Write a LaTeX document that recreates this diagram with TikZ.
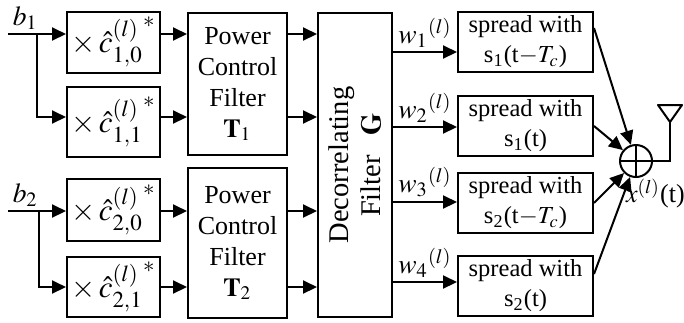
\documentclass[tikz,border=0pt]{standalone}
\usepackage{mathptmx}
\usepackage{fontspec}
\setmainfont{Liberation Serif}
\usetikzlibrary{arrows.meta}

\begin{document}
\begin{tikzpicture}[x=0.4pt,y=-0.4pt,>={Triangle[length=5.6pt,width=5.2pt]},line width=0.8pt,
  font=\fontsize{10.4}{12.4}\selectfont,
  blk/.style={draw,align=center,inner sep=0pt},
  mulbox/.style={blk,minimum width=37.2pt,minimum height=24.4pt,font=\fontsize{12.4}{14}\selectfont},
  spreadbox/.style={blk,minimum width=54pt,minimum height=24pt,font=\fontsize{9.8}{12}\selectfont},
  wlabel/.style={above,inner sep=1.5pt,font=\fontsize{11}{13}\selectfont}]
\useasboundingbox (0,0) rectangle (684,322);
% multipliers
\node[mulbox] (c10) at (113.5,42) {$\times\,{\hat{c}_{1,0}^{(l)}{}}^{*}$};
\node[mulbox,minimum height=28pt] (c11) at (113.5,122) {$\times\,{\hat{c}_{1,1}^{(l)}{}}^{*}$};
\node[mulbox,minimum height=24.8pt] (c20) at (113.5,210) {$\times\,{\hat{c}_{2,0}^{(l)}{}}^{*}$};
\node[mulbox,minimum height=24pt] (c21) at (113.5,287) {$\times\,{\hat{c}_{2,1}^{(l)}{}}^{*}$};
% power control filters
\node[blk,minimum width=39.6pt,minimum height=56.8pt] (pc1) at (237.5,84) {Power\\Control\\Filter\\$\mathbf{T}_1$};
\node[blk,minimum width=39.6pt,minimum height=60pt] (pc2) at (237.5,243) {Power\\Control\\Filter\\$\mathbf{T}_2$};
% decorrelating filter
\node[blk,minimum width=29.6pt,minimum height=121.6pt] (dec) at (355,165) {};
\node[rotate=90,align=center,font=\fontsize{11.4}{12.8}\selectfont] (dectext) at (dec.center) {Decorrelating\\Filter\hspace{0.45em} $\mathbf{G}$};
% spreading
\node[spreadbox] (sp1) at (525.5,42) {spread with\\s\textsubscript{1}(t$-T_c$)};
\node[spreadbox] (sp2) at (525.5,126) {spread with\\s\textsubscript{1}(t)};
\node[spreadbox] (sp3) at (525.5,203) {spread with\\s\textsubscript{2}(t$-T_c$)};
\node[spreadbox] (sp4) at (525.5,286) {spread with\\s\textsubscript{2}(t)};
% adder
\node[circle,draw,minimum size=12.8pt,inner sep=0pt] (sum) at (636,161) {};
\draw (sum.north) -- (sum.south) (sum.west) -- (sum.east);
\node[anchor=north west,inner sep=0pt] (xout) at (625,178) {$x^{(l)}$(t)};

% inputs and branches
\coordinate (r1) at (8,34);
\coordinate (r2) at (37,117);
\coordinate (r3) at (8,211);
\coordinate (r4) at (39,287);
\node[above right,inner sep=1.5pt,font=\fontsize{11}{13}\selectfont] (b1) at (r1) {$b_1$};
\node[above right,inner sep=1.5pt,font=\fontsize{11}{13}\selectfont] (b2) at (r3) {$b_2$};
\draw[->] (r1) -- (r1 -| c10.west);
\draw[->] (r1 -| r2) -- (r2) -- (r2 -| c11.west);
\draw[->] (r3) -- (r3 -| c20.west);
\draw[->] (r3 -| r4) -- (r4) -- (r4 -| c21.west);
\draw[->] (r1 -| c10.east) -- (r1 -| pc1.west);
\draw[->] (r2 -| c11.east) -- (r2 -| pc1.west);
\draw[->] (r3 -| c20.east) -- (r3 -| pc2.west);
\draw[->] (r4 -| c21.east) -- (r4 -| pc2.west);
\draw[->] (r1 -| pc1.east) -- (r1 -| dec.west);
\draw[->] (r2 -| pc1.east) -- (r2 -| dec.west);
\draw[->] (r3 -| pc2.east) -- (r3 -| dec.west);
\draw[->] (r4 -| pc2.east) -- (r4 -| dec.west);

% filter outputs
\coordinate (w1) at (0,52);
\coordinate (w2) at (0,127);
\coordinate (w3) at (0,202);
\coordinate (w4) at (0,282);
\draw[->] (dec.east |- w1) -- node[wlabel] (lw1) {$w_1{}^{(l)}$} (sp1.west |- w1);
\draw[->] (dec.east |- w2) -- node[wlabel] (lw2) {$w_2{}^{(l)}$} (sp2.west |- w2);
\draw[->] (dec.east |- w3) -- node[wlabel] (lw3) {$w_3{}^{(l)}$} (sp3.west |- w3);
\draw[->] (dec.east |- w4) -- node[wlabel] (lw4) {$w_4{}^{(l)}$} (sp4.west |- w4);

% into the adder
\draw[->] ([yshift=5.6pt]sp1.east) -- (sum);
\draw[->] (sp2.east) -- (sum);
\draw[->] (sp3.east) -- (sum);
\draw[->] ([yshift=4.8pt]sp4.east) -- (sum);

% antenna
\coordinate (ant) at (670,122);
\draw (sum.east) -| (ant);
\draw[line join=round] (ant) -- (658,105) -- (682,105) -- cycle;
\end{tikzpicture}
\end{document}
